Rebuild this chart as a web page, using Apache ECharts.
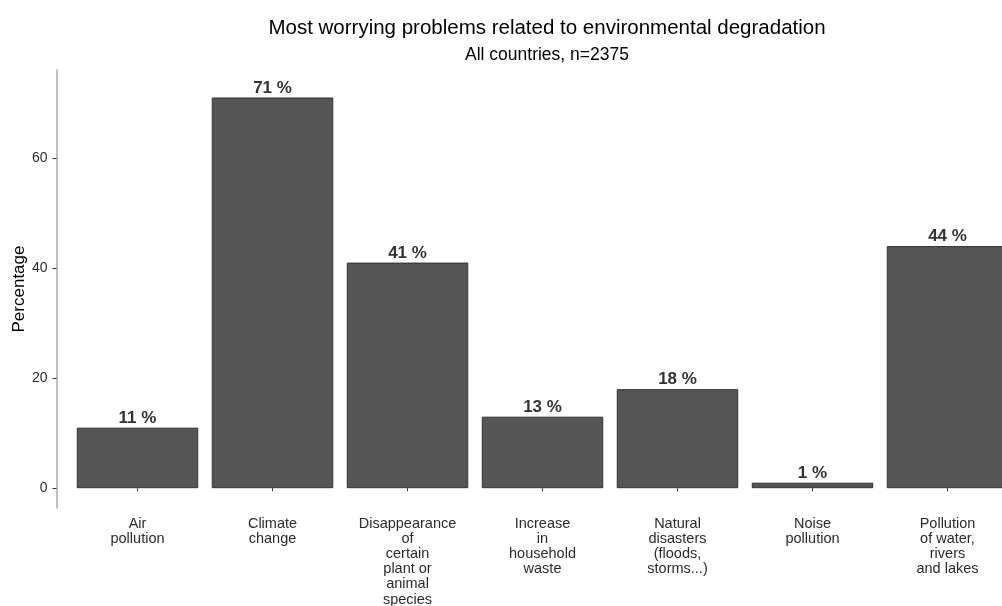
<!DOCTYPE html>
<html>
<head>
<meta charset="utf-8">
<script src="https://cdn.jsdelivr.net/npm/echarts@6/dist/echarts.min.js"></script>
<style>
html,body{margin:0;padding:0;background:#fff;}
#chart{width:1002px;height:606px;}
</style>
</head>
<body>
<div id="chart"></div>
<script>
var categories = [
  "Air\npollution",
  "Climate\nchange",
  "Disappearance\nof\ncertain\nplant or\nanimal\nspecies",
  "Increase\nin\nhousehold\nwaste",
  "Natural\ndisasters\n(floods,\nstorms...)",
  "Noise\npollution",
  "Pollution\nof water,\nrivers\nand lakes"
];
var percentages = [11, 71, 41, 13, 18, 1, 44];
var yTickValues = [0, 20, 40, 60];
var titleText = "Most worrying problems related to environmental degradation";
var subtitleText = "All countries, n=2375";
var yAxisName = "Percentage";

var chart = echarts.init(document.getElementById('chart'), null, {renderer: 'canvas'});
var font = "'Liberation Sans', Arial, sans-serif";
chart.setOption({
  animation: false,
  backgroundColor: '#ffffff',
  title: [
    {text: titleText, left: 542, top: 13, textAlign: 'center',
     textStyle: {fontFamily: font, fontSize: 20.5, fontWeight: 'normal', color: '#000'}},
    {text: subtitleText, left: 542, top: 41, textAlign: 'center',
     textStyle: {fontFamily: font, fontSize: 17.5, fontWeight: 'normal', color: '#000'}}
  ],
  grid: {left: 70, width: 945, top: 70, bottom: 98, containLabel: false, outerBoundsMode: 'none'},
  xAxis: {
    type: 'category',
    data: categories,
    axisLine: {show: false},
    axisTick: {show: true, alignWithLabel: true, length: 3, lineStyle: {color: '#333'}},
    axisLabel: {fontFamily: font, fontSize: 14.5, color: '#2b2b2b', lineHeight: 15.2, margin: 8, interval: 0}
  },
  yAxis: {
    type: 'value',
    min: -3.6,
    max: 76,
    offset: 13.5,
    name: yAxisName,
    nameLocation: 'middle',
    nameRotate: 90,
    nameGap: 37,
    nameMoveOverlap: false,
    nameTextStyle: {fontFamily: font, fontSize: 17, color: '#000', verticalAlign: 'middle'},
    splitLine: {show: false},
    axisLine: {show: true, lineStyle: {color: '#aaaaaa', width: 1.5}},
    axisTick: {show: true, length: 4, customValues: yTickValues, lineStyle: {color: '#333'}},
    axisLabel: {fontFamily: font, fontSize: 14, color: '#2b2b2b', margin: 9, customValues: yTickValues}
  },
  series: [{
    type: 'bar',
    data: percentages,
    barWidth: '90%',
    itemStyle: {color: '#555555', borderColor: '#333333', borderWidth: 1},
    label: {
      show: true, position: 'top', distance: 1,
      formatter: function (p) { return p.value + ' %'; },
      fontFamily: font, fontSize: 17, fontWeight: 'bold', color: '#333'
    }
  }]
});
</script>
</body>
</html>
